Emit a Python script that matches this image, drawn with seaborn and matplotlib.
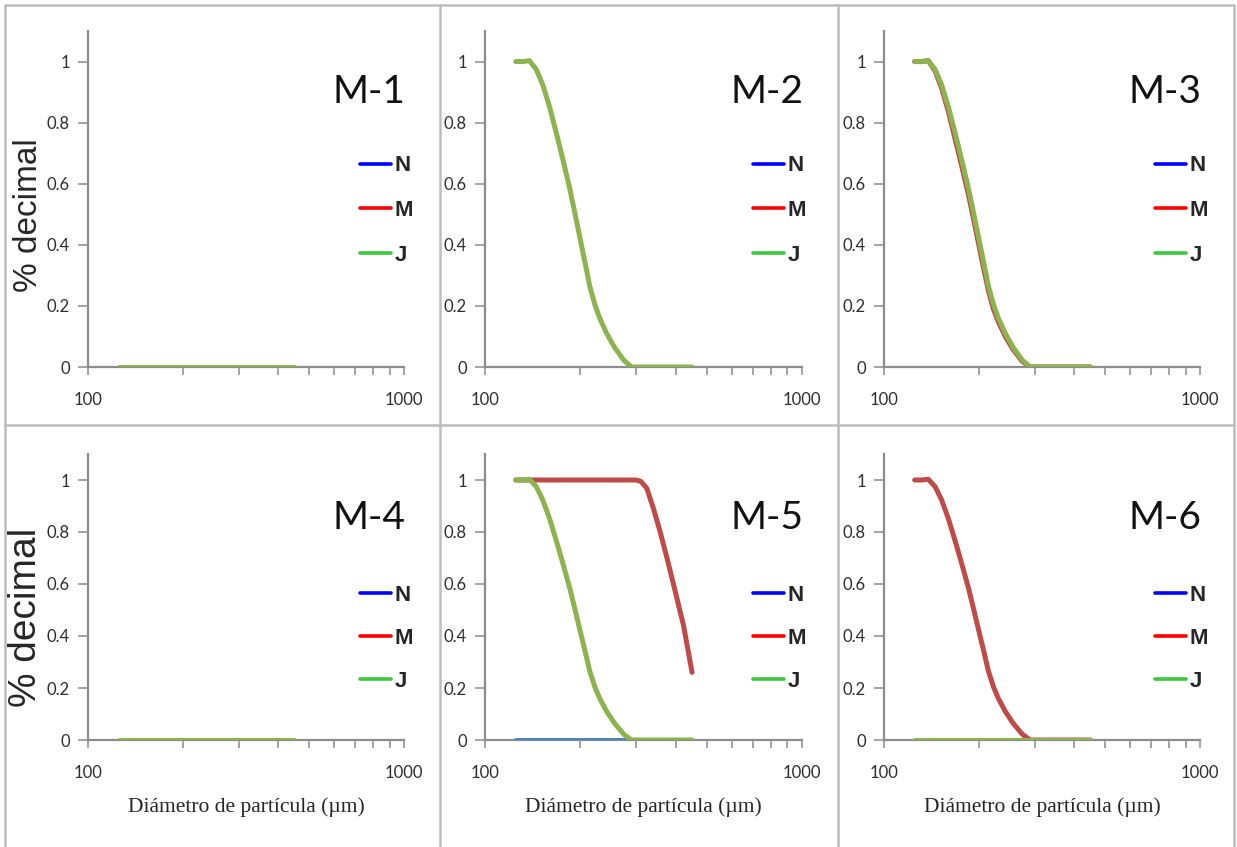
import matplotlib.pyplot as plt
import matplotlib.ticker as mticker
from matplotlib.lines import Line2D
import numpy as np
import pandas as pd
import seaborn as sns

# Particle diameter (um) where the curves were read
diam = [125, 132, 138, 145, 152, 160, 168, 176, 185, 192, 200, 207, 214, 222,
        230, 242, 256, 274, 290, 300, 310, 324, 340, 357, 375, 393, 423, 450]

# Fraction retained (% decimal) for each sample / series
zeros = [0] * 28
m2_j = [1.0, 1.0, 1.003, 0.975, 0.925, 0.85, 0.765, 0.68, 0.585, 0.505, 0.415, 0.34, 0.265, 0.205,
        0.16, 0.11, 0.065, 0.022, 0.0, 0, 0, 0, 0, 0, 0, 0, 0, 0]
m3_m = [1.0, 1.0, 1.003, 0.97, 0.915, 0.835, 0.745, 0.66, 0.565, 0.485, 0.395, 0.32, 0.25, 0.19,
        0.148, 0.10, 0.058, 0.018, 0.0, 0, 0, 0, 0, 0, 0, 0, 0, 0]
m3_j = [1.0, 1.0, 1.003, 0.975, 0.925, 0.85, 0.765, 0.68, 0.585, 0.505, 0.415, 0.34, 0.265, 0.205,
        0.16, 0.11, 0.065, 0.022, 0.0, 0, 0, 0, 0, 0, 0, 0, 0, 0]
m5_n = [0, 0, 0, 0, 0, 0, 0, 0, 0, 0, 0, 0, 0, 0,
        0, 0, 0, 0, 0, np.nan, np.nan, np.nan, np.nan, np.nan, np.nan, np.nan, np.nan, np.nan]
m5_m = [1, 1, 1, 1, 1, 1, 1, 1, 1, 1, 1, 1, 1, 1,
        1, 1, 1, 1, 1, 1.0, 0.995, 0.968, 0.89, 0.80, 0.70, 0.60, 0.44, 0.26]
m5_j = [1.0, 1.0, 1.003, 0.975, 0.925, 0.85, 0.765, 0.68, 0.585, 0.505, 0.415, 0.34, 0.265, 0.205,
        0.16, 0.11, 0.065, 0.022, 0.0, 0, 0, 0, 0, 0, 0, 0, 0, 0]
m6_m = [1.0, 1.0, 1.003, 0.975, 0.925, 0.85, 0.765, 0.68, 0.585, 0.505, 0.415, 0.34, 0.265, 0.205,
        0.16, 0.11, 0.065, 0.022, 0.0, 0, 0, 0, 0, 0, 0, 0, 0, 0]
m6_j = zeros

titles = ['M-1', 'M-2', 'M-3', 'M-4', 'M-5', 'M-6']
legend_labels = ['N', 'M', 'J']
y_ticks = [0, 0.2, 0.4, 0.6, 0.8, 1]
y_ticklabels = ['0', '0.2', '0.4', '0.6', '0.8', '1']

# Excel-like colours: curves vs. legend swatches
c_n, c_m, c_j = '#4F81BD', '#BE4B48', '#8DB34E'
leg_colors = ['#0000FF', '#FF0000', '#3CC83C']

panel_series = [
    [(zeros, c_j)],
    [(m2_j, c_j)],
    [(m3_m, c_m), (m3_j, c_j)],
    [(zeros, c_j)],
    [(m5_n, c_n), (m5_m, c_m), (m5_j, c_j)],
    [(m6_m, c_m), (m6_j, c_j)],
]

sns.set_theme(style='white')
plt.rcParams['font.family'] = ['Lato', 'DejaVu Sans']

W, H = 1237, 847
fig = plt.figure(figsize=(W / 100, H / 100), dpi=100)

# panel geometry in pixels
lefts = [88, 485, 884]
rights = [404, 802, 1200]
tops = [31, 454]
bottoms = [367, 740]
leg_x = [0.861, 0.845, 0.858]
grey = '#8c8c8c'

for i, title in enumerate(titles):
    r, c = divmod(i, 3)
    ax = fig.add_axes([lefts[c] / W, 1 - bottoms[r] / H,
                       (rights[c] - lefts[c]) / W, (bottoms[r] - tops[r]) / H])
    for vals, col in panel_series[i]:
        df = pd.DataFrame({'d': diam, 'v': vals}).dropna()
        sns.lineplot(data=df, x='d', y='v', ax=ax, color=col, linewidth=3.6,
                     estimator=None, sort=False, solid_capstyle='round', zorder=3)

    ax.set_xscale('log')
    ax.set_xlim(100, 1000)
    ax.set_ylim(0, 1.1)
    ax.set_xticks([100, 1000])
    ax.set_xticklabels(['100', '1000'])
    ax.xaxis.set_minor_locator(mticker.LogLocator(base=10, subs=np.arange(2, 10)))
    ax.xaxis.set_minor_formatter(mticker.NullFormatter())
    ax.set_yticks(y_ticks)
    ax.set_yticklabels(y_ticklabels)

    for s in ['top', 'right']:
        ax.spines[s].set_visible(False)
    for s in ['left', 'bottom']:
        ax.spines[s].set_color(grey)
        ax.spines[s].set_linewidth(1.6)

    ax.tick_params(axis='x', which='both', bottom=True, direction='out',
                   length=6, width=1.1, color=grey)
    ax.tick_params(axis='x', which='major', pad=12, labelsize=12, labelcolor='#2e2e2e')
    ax.tick_params(axis='y', left=True, direction='out', length=7, width=1.1,
                   color=grey, pad=6, labelsize=12, labelcolor='#2e2e2e')

    ax.set_xlabel('')
    ax.set_ylabel('')
    if c == 0:
        ax.set_ylabel('% decimal', fontsize=24 if r == 0 else 28,
                      family=['Liberation Sans', 'DejaVu Sans'])
        ax.yaxis.set_label_coords(-0.139, 0.451 if r == 0 else 0.428)
    if r == 1:
        ax.set_xlabel('Diámetro de partícula (µm)', fontsize=15.5,
                      family=['Liberation Serif', 'DejaVu Serif'])
        ax.xaxis.set_label_coords(0.5, -0.2)

    ax.text(1.005, 0.818 if r == 0 else 0.775, title, transform=ax.transAxes,
            ha='right', va='center', fontsize=28, color='#111111')

    handles = [Line2D([], [], color=lc, linewidth=2.6) for lc in leg_colors]
    ax.legend(handles, legend_labels, loc='upper left',
              bbox_to_anchor=(leg_x[c], 0.63 if r == 0 else 0.542),
              frameon=False, borderpad=0, borderaxespad=0,
              handlelength=1.4, handletextpad=0.15,
              labelspacing=1.07 if r == 0 else 0.98,
              prop={'family': ['Liberation Sans', 'DejaVu Sans'], 'weight': 'bold', 'size': 16})

# grey frame around the six panels
frame = '#bdbdbd'
def fig_line(x0, y0, x1, y1):
    fig.add_artist(Line2D([x0 / W, x1 / W], [1 - y0 / H, 1 - y1 / H],
                          transform=fig.transFigure, color=frame, linewidth=1.8))

fig_line(5, 5, 1234, 5)
fig_line(5, 5, 5, 847)
fig_line(1234, 5, 1234, 847)
fig_line(440, 5, 440, 847)
fig_line(838, 5, 838, 847)
fig_line(5, 425, 1234, 425)

fig.savefig('out.png', dpi=100)
